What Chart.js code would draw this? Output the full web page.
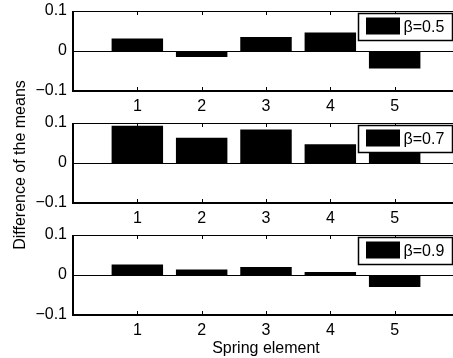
<!DOCTYPE html>
<html>
<head>
<meta charset="utf-8">
<script src="https://cdn.jsdelivr.net/npm/chart.js@4.4.1/dist/chart.umd.min.js"></script>
<style>
  html,body{margin:0;padding:0;background:#fff;overflow:hidden;width:453px;height:358px;}
  canvas{position:absolute;left:0;}
  #ylab{position:absolute;left:21px;top:165px;width:220px;margin-left:-110px;margin-top:-10px;height:20px;line-height:20px;
        text-align:center;font:16px 'Liberation Sans', Arial, sans-serif;color:#000;transform:rotate(-90deg);white-space:nowrap;}
</style>
</head>
<body>
<canvas id="c1" width="459" height="112" style="top:0px"></canvas>
<canvas id="c2" width="459" height="112" style="top:112px"></canvas>
<canvas id="c3" width="459" height="134" style="top:224px"></canvas>
<div id="ylab">Difference of the means</div>
<script>
// spring elements on the x axis
const springElements = [1, 2, 3, 4, 5];
// difference of the means, one array per beta
const beta05 = [0.031, -0.015, 0.035, 0.046, -0.044];
const beta07 = [0.093, 0.063, 0.084, 0.047, 0.050];
const beta09 = [0.026, 0.014, 0.020, 0.0075, -0.030];
const betaLabels = ['\u03b2=0.5', '\u03b2=0.7', '\u03b2=0.9'];
const yTicks = [-0.1, 0, 0.1];

const FONT = 'Liberation Sans, Arial, Helvetica, sans-serif';

// frame, inward ticks, zero baseline and legend box (matlab look)
const framePlugin = {
  id: 'frame',
  afterDraw(chart){
    const ctx = chart.ctx, a = chart.chartArea;
    const xs = chart.scales.x, ys = chart.scales.y;
    ctx.save();
    ctx.strokeStyle = '#000';
    // baseline at 0
    const y0 = Math.round(ys.getPixelForValue(0)) + 0.5;
    ctx.lineWidth = 1;
    ctx.beginPath(); ctx.moveTo(a.left, y0); ctx.lineTo(a.right, y0); ctx.stroke();
    // top + right
    ctx.beginPath(); ctx.moveTo(a.left, a.top + 0.5); ctx.lineTo(a.right, a.top + 0.5); ctx.stroke();
    // ticks on x (top and bottom, inward)
    springElements.forEach(v=>{
      const px = Math.round(xs.getPixelForValue(v)) + 0.5;
      ctx.beginPath(); ctx.moveTo(px, a.top); ctx.lineTo(px, a.top + 4); ctx.stroke();
      ctx.beginPath(); ctx.moveTo(px, a.bottom); ctx.lineTo(px, a.bottom - 4); ctx.stroke();
    });
    // left + bottom, a bit heavier
    ctx.lineWidth = 2;
    ctx.beginPath(); ctx.moveTo(a.left, a.top); ctx.lineTo(a.left, a.bottom); ctx.lineTo(a.right, a.bottom); ctx.stroke();

    // legend
    const bx = 358.5, by = a.top + 2.5, bw = 94, bh = 27;
    ctx.fillStyle = '#fff';
    ctx.fillRect(bx, by, bw, bh);
    ctx.lineWidth = 1.5;
    ctx.strokeRect(bx, by, bw, bh);
    ctx.fillStyle = '#000';
    ctx.fillRect(bx + 7.5, by + 4, 34, 17);
    ctx.font = '16px ' + FONT;
    ctx.textBaseline = 'middle';
    ctx.textAlign = 'left';
    ctx.fillText(chart.data.datasets[0].label, bx + 45, by + 14);
    ctx.restore();
  }
};

function makePanel(id, label, values, opts){
  const canvas = document.getElementById(id);
  const H = canvas.height;
  return new Chart(canvas, {
    type: 'bar',
    data: {
      datasets: [{
        label: label,
        data: springElements.map((c,i)=>({x:c, y:values[i]})),
        backgroundColor: '#000',
        borderWidth: 0,
        barPercentage: 0.8,
        categoryPercentage: 1
      }]
    },
    options: {
      responsive: false,
      animation: false,
      devicePixelRatio: 1,
      layout: { padding: { top: 11, left: 0, right: 0, bottom: 0 } },
      plugins: { legend: { display: false }, tooltip: { enabled: false } },
      scales: {
        x: {
          type: 'linear', min: 0, max: 6, offset: false,
          grid: { display: false, drawTicks: false, offset: false },
          border: { display: false },
          afterBuildTicks: s=>{ s.ticks = springElements.map(v=>({value:v})); },
          afterFit: s=>{ s.height = H - 91; },
          ticks: { color: '#000', padding: 6, font: { family: FONT, size: 16 }, callback: v=>String(v), maxRotation: 0 },
          title: opts.xTitle ? { display: true, text: 'Spring element', color: '#000', font: { family: FONT, size: 16 }, padding: { top: 0, bottom: 0 } } : { display: false }
        },
        y: {
          min: -0.1, max: 0.1,
          grid: { display: false, drawTicks: false },
          border: { display: false },
          afterBuildTicks: s=>{ s.ticks = yTicks.map(v=>({value:v})); },
          afterFit: s=>{ s.width = 73; },
          ticks: { color: '#000', padding: 6, font: { family: FONT, size: 16, lineHeight: 0.6 },
            callback: v=>{ const r = Math.round(v*10)/10; return r < 0 ? '\u2212' + Math.abs(r) : String(r); } }
        }
      }
    },
    plugins: [framePlugin]
  });
}

makePanel('c1', betaLabels[0], beta05, {});
makePanel('c2', betaLabels[1], beta07, {});
makePanel('c3', betaLabels[2], beta09, { xTitle: true });
</script>
</body>
</html>
